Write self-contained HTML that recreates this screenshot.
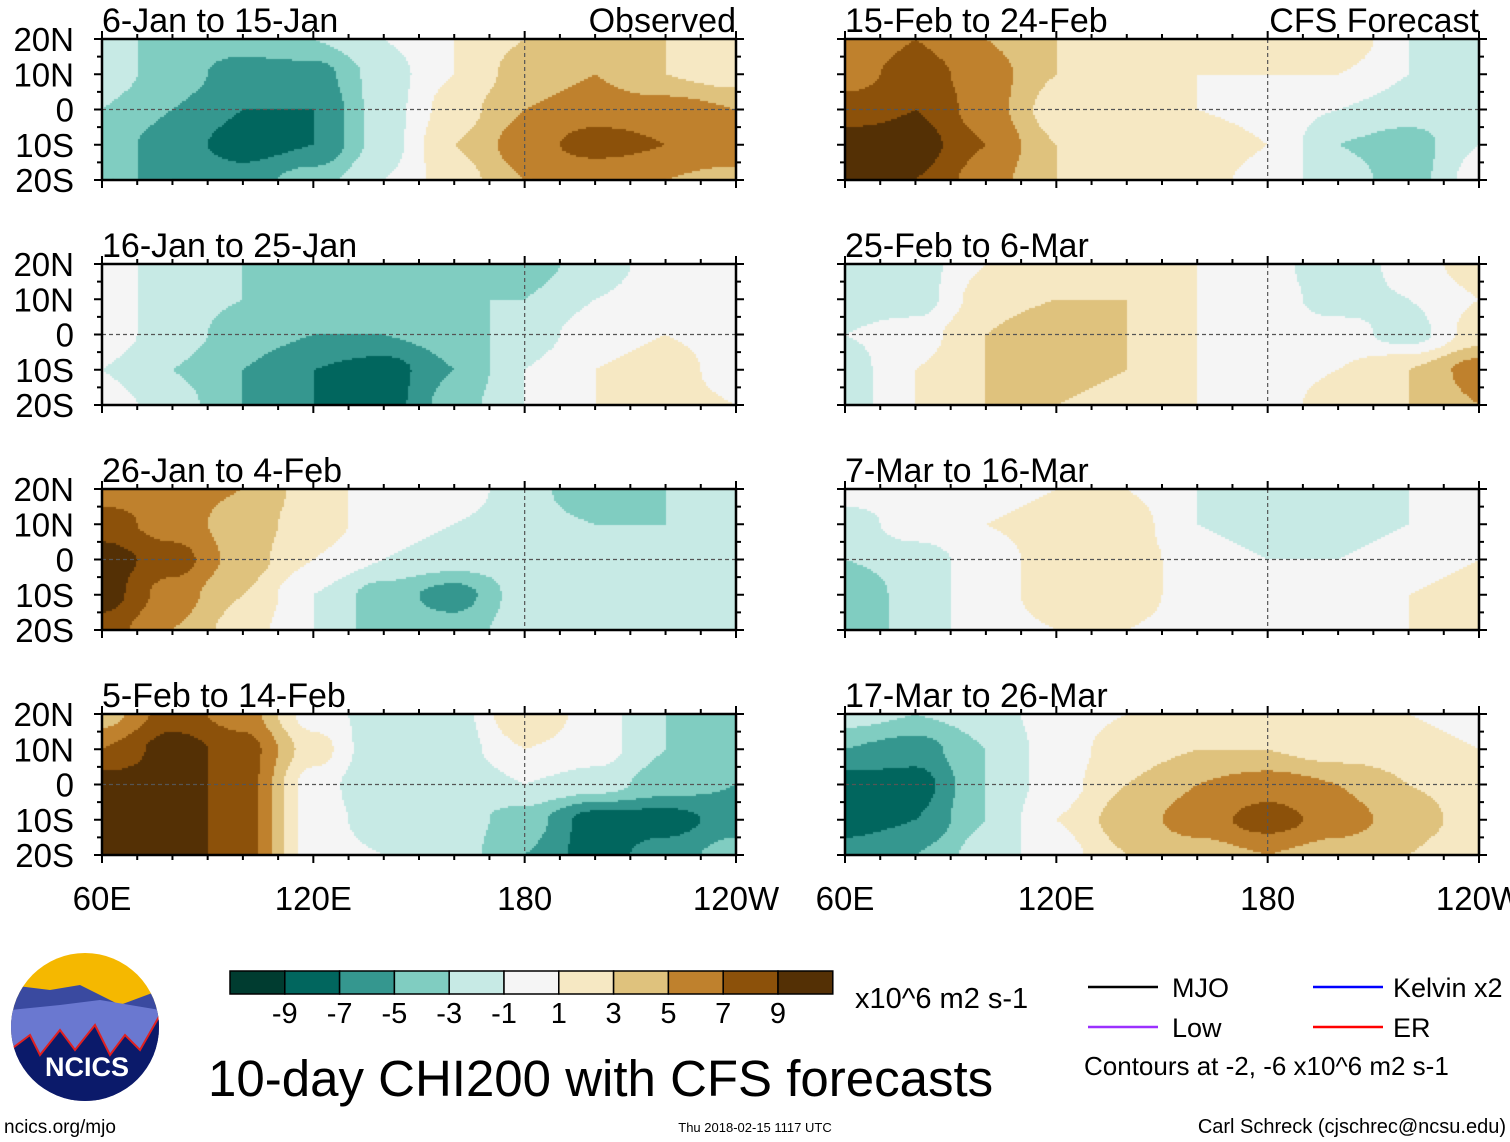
<!DOCTYPE html>
<html><head><meta charset="utf-8">
<style>
body{margin:0;background:#fff;width:1510px;height:1142px;overflow:hidden;position:relative;font-family:"Liberation Sans",sans-serif;}
canvas{position:absolute;}
svg{position:absolute;left:0;top:0;}
</style></head>
<body>
<div id="maps"></div>
<svg id="ov" width="1510" height="1142"></svg>
<script>
// Grid: lon 60E..240E every 20deg, lat rows 20N,10N,0,10S,20S
const lons=[60,80,100,120,140,160,180,200,220,240];
const lats=[20,10,0,-10,-20];
const titles=["6-Jan to 15-Jan","16-Jan to 25-Jan","26-Jan to 4-Feb","5-Feb to 14-Feb","15-Feb to 24-Feb","25-Feb to 6-Mar","7-Mar to 16-Mar","17-Mar to 26-Mar"];
const p1=[[-2,-4,-4,-3,-1,1,3,5,3,1],[-2,-4,-6,-6,-2,1,4,5,3,2],[-3,-5,-7,-7,-2,2,5,6,6,5],[-4,-6,-8,-7,-2,3,6,8,7,7],[-5,-5,-6,-4,-1,2,5,5,5,4]];
const p2=[[0,-2,-3,-4,-3,-4,-4,-2,0,1],[0,-2,-3,-3,-3,-3,-3,-1,0,1],[0,-2,-4,-5,-5,-4,-2,0,1,0],[-1,-3,-5,-7,-8,-5,-1,1,2,0],[0,-2,-5,-7,-8,-4,-1,1,2,1]];
const p3=[[6,6,5,2,0,0,-2,-5,-3,-2],[8,6,4,2,0,-1,-2,-3,-3,-2],[10,8,4,1,-1,-2,-2,-3,-2,-3],[10,6,3,-1,-4,-6,-2,-2,-2,-3],[8,5,2,-1,-4,-4,-2,-1,-3,-2]];
const p4=[[4,8,6,0,-2,-2,3,0,-3,-4],[7,10,8,2,-3,-2,1,0,-3,-5],[10,10,8,0,-3,-3,-1,-2,-4,-5],[10,10,8,0,-2,-2,-4,-8,-8,-6],[10,10,8,0,-1,-2,-5,-8,-6,-4]];
const p5=[[5,7,5,3,2,1,1,3,-1,-2],[6,8,6,3,1,1,1,1,-1,-2],[8,9,6,2,1,1,0,-1,-2,-2],[10,10,7,3,2,3,1,-3,-4,-1],[10,9,6,3,2,2,0,-2,-4,0]];
const p6=[[-2,-2,1,2,2,1,0,-3,0,2],[-2,-2,2,3,3,1,0,-2,-1,1],[-1,0,3,5,3,1,0,0,-2,2],[-2,1,3,4,3,1,0,1,3,6],[-2,1,3,3,2,1,0,2,3,5]];
const p7=[[0,0,0,1,1,-1,-1,-3,-1,0],[-2,0,1,2,2,-1,-2,-2,-1,1],[-3,-2,0,2,2,0,-1,-1,0,1],[-5,-2,0,2,2,0,-1,0,1,2],[-5,-2,0,1,1,0,-1,0,1,2]];
const p8=[[-2,-3,-2,0,1,1,1,1,1,0],[-5,-6,-3,0,2,3,3,2,2,1],[-8,-8,-3,0,3,5,6,5,3,2],[-8,-7,-3,1,4,6,8,6,4,2],[-6,-5,-2,0,3,4,5,4,3,1]];
const panelsData=[p1,p2,p3,p4,p5,p6,p7,p8];
const levels=[-9,-7,-5,-3,-1,1,3,5,7,9];
const levelLabels=["-9","-7","-5","-3","-1","1","3","5","7","9"];
const colors=["#003c30","#01665e","#35978f","#80cdc1","#c7eae5","#f5f5f5","#f6e8c3","#dfc27d","#bf812d","#8c510a","#543005"];

const NS="http://www.w3.org/2000/svg";
const ov=document.getElementById('ov');
const maps=document.getElementById('maps');
function mk(tag,attrs,parent,text){const e=document.createElementNS(NS,tag);for(const k in attrs)e.setAttribute(k,attrs[k]);if(text!==undefined)e.textContent=text;(parent||ov).appendChild(e);return e;}
const W=634,H=141;
const colX=[102,845],rowY=[39,264,489,714];
function colorFor(v){let i=0;while(i<levels.length&&v>=levels[i])i++;return colors[i];}
function sm(t){return t*t*(3-2*t);}
function sample(g,lon,lat){
  let fx=(lon-60)/20, fy=(20-lat)/10;
  let i=Math.min(Math.floor(fx),8), j=Math.min(Math.floor(fy),3);
  let tx=sm(fx-i), ty=sm(fy-j);
  let a=g[j][i]*(1-tx)+g[j][i+1]*tx, b=g[j+1][i]*(1-tx)+g[j+1][i+1]*tx;
  return a*(1-ty)+b*ty;
}
const xs=lon=>(lon-60)/180*W, ys=lat=>(20-lat)/40*H;
panelsData.forEach((g,k)=>{
  const px=colX[Math.floor(k/4)], py=rowY[k%4];
  const cv=document.createElement('canvas');
  cv.width=W;cv.height=H;cv.style.left=px+'px';cv.style.top=py+'px';
  
  
  maps.appendChild(cv);
  const c=cv.getContext('2d');
  const s=2;
  for(let x=0;x<W;x+=s)for(let y=0;y<H;y+=s){
    const lon=60+(x+1)/W*180, lat=20-(y+1)/H*40;
    c.fillStyle=colorFor(sample(g,lon,lat));c.fillRect(x,y,s,s);
  }
  const gp=mk('g',{transform:`translate(${px},${py})`});
  
  
  mk('line',{x1:0,x2:W,y1:ys(0),y2:ys(0),stroke:'#555','stroke-dasharray':'4,3','stroke-width':1.2},gp);
  mk('line',{x1:xs(180),x2:xs(180),y1:0,y2:H,stroke:'#555','stroke-dasharray':'4,3','stroke-width':1.2},gp);
  mk('rect',{x:0,y:0,width:W,height:H,fill:'none',stroke:'#000','stroke-width':2.5},gp);
  for(let lon=60;lon<=240;lon+=10){const L=(lon%60===0)?8:5;
    mk('line',{x1:xs(lon),x2:xs(lon),y1:0,y2:-L,stroke:'#000','stroke-width':2},gp);
    mk('line',{x1:xs(lon),x2:xs(lon),y1:H,y2:H+L,stroke:'#000','stroke-width':2},gp);}
  for(let lat=-20;lat<=20;lat+=5){const L=(lat%10===0)?8:5;
    mk('line',{x1:0,x2:-L,y1:ys(lat),y2:ys(lat),stroke:'#000','stroke-width':2},gp);
    mk('line',{x1:W,x2:W+L,y1:ys(lat),y2:ys(lat),stroke:'#000','stroke-width':2},gp);}
  const t=mk('text',{x:0,y:-7,'font-size':34,fill:'#000'},gp,titles[k]);
  
  
  if(k===0){mk('text',{x:W,y:-7,'font-size':34,'text-anchor':'end'},gp,'Observed');}
  if(k===4){mk('text',{x:W,y:-7,'font-size':34,'text-anchor':'end'},gp,'CFS Forecast');}
  if(k<4){["20N","10N","0","10S","20S"].forEach((s2,i)=>{mk('text',{x:-28,y:ys(lats[i])+12,'font-size':33,'text-anchor':'end'},gp,s2);});}
});
// bottom lon labels
["60E","120E","180","120W"].forEach((s,i)=>{
  [0,1].forEach(c=>{const x=colX[c]+xs(60+60*i);
    const t=mk('text',{x:x,y:910,'font-size':33,'text-anchor':'middle'},ov,s);
    
    });
});
// colorbar
const cb=mk('g',{});


const cw=54.8;
colors.forEach((col,i)=>{mk('rect',{x:230+i*cw,y:971,width:cw,height:23,fill:col,stroke:'#000','stroke-width':1.5},cb);});
levelLabels.forEach((s,i)=>{mk('text',{x:230+(i+1)*cw,y:1023,'font-size':29,'text-anchor':'middle'},cb,s);});
mk('text',{x:855,y:1008,'font-size':29},cb,'x10^6 m2 s-1');
// legend
const lg=mk('g',{});


[["MJO","#000",1088,1172,987],["Kelvin x2","#0000ff",1313,1393,987],["Low","#9b30ff",1088,1172,1027],["ER","#ff0000",1313,1393,1027]].forEach(d=>{
  mk('line',{x1:d[2],x2:d[2]+70,y1:d[4],y2:d[4],stroke:d[1],'stroke-width':2.5},lg);
  mk('text',{x:d[3],y:d[4]+10,'font-size':27},lg,d[0]);});
mk('text',{x:1084,y:1075,'font-size':26},lg,'Contours at -2, -6 x10^6 m2 s-1');
// title
const tt=mk('text',{x:208,y:1096,'font-size':51},ov,'10-day CHI200 with CFS forecasts');


mk('text',{x:4,y:1133,'font-size':19},ov,'ncics.org/mjo');
mk('text',{x:755,y:1132,'font-size':13,'text-anchor':'middle'},ov,'Thu 2018-02-15 1117 UTC');
mk('text',{x:1506,y:1133,'font-size':20,'text-anchor':'end'},ov,'Carl Schreck (cjschrec@ncsu.edu)');
// logo
const lo=mk('g',{});


mk('clipPath',{id:'lc'},lo).appendChild(Object.assign(document.createElementNS(NS,'ellipse'),{}));
const ce=document.querySelector('#lc ellipse');ce.setAttribute('cx',85);ce.setAttribute('cy',1027);ce.setAttribute('rx',74);ce.setAttribute('ry',74);
const lg2=mk('g',{'clip-path':'url(#lc)'},lo);
mk('rect',{x:10,y:950,width:150,height:160,fill:'#f5b800'},lg2);
mk('path',{d:'M10 985 L50 990 L80 985 L120 1005 L160 990 L160 1110 L10 1110Z',fill:'#3a4aa0'},lg2);
mk('path',{d:'M10 1010 L60 1005 L100 1000 L160 1010 L160 1110 L10 1110Z',fill:'#6a78d0'},lg2);
mk('path',{d:'M10 1050 L30 1035 L40 1055 L60 1030 L75 1050 L95 1025 L110 1055 L125 1035 L140 1050 L160 1015 L160 1110 L10 1110Z',fill:'#0b1a6a',stroke:'#e02020','stroke-width':2},lg2);
mk('text',{x:87,y:1076,'font-size':27,'font-weight':'bold',fill:'#fff','text-anchor':'middle'},lo,'NCICS');
</script>
</body></html>
